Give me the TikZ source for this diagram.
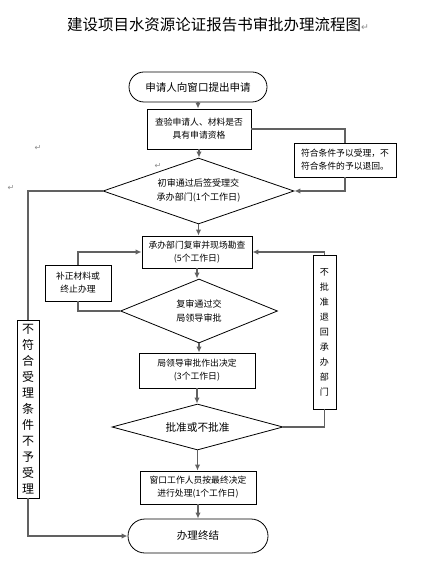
\documentclass[tikz,border=0pt]{standalone}
\usepackage{fontspec}
\setmainfont{Noto Sans CJK SC}
\newfontfamily\symfont{DejaVu Sans}
\usetikzlibrary{shapes.geometric,shapes.misc,arrows.meta}
\tikzset{
  basebox/.style={draw=black,line width=0.6pt,fill=white,align=center,inner sep=0pt},
  stepbox/.style={basebox,rectangle,font=\fontsize{6.6pt}{9.8pt}\selectfont},
  decis/.style={basebox,diamond,aspect=3,font=\fontsize{6.8pt}{10.5pt}\selectfont},
  term/.style={basebox,rounded rectangle,font=\fontsize{7.9pt}{10pt}\selectfont},
  conn/.style={draw=black!62,line width=1.1pt},
  arr/.style={conn,-{Latex[length=4.5pt,width=4pt]}},
  pmark/.style={text=black!45,font=\symfont\fontsize{6pt}{6pt}\selectfont,inner sep=0pt}
}
\begin{document}
\begin{tikzpicture}[x=0.75pt,y=-0.75pt]
\useasboundingbox (0,0) rectangle (444,566);
\fill[white] (0,0) rectangle (444,566);

\node[font=\fontsize{11.6pt}{12pt}\selectfont,inner sep=0pt] (title) at (218,25)
  {建设项目水资源论证报告书审批办理流程图{\symfont\fontsize{7pt}{7pt}\selectfont\textcolor{black!45}{↵}}};

\node[term,minimum width=103.5pt,minimum height=22.5pt] (start) at (198,87) {申请人向窗口提出申请};
\node[stepbox,minimum width=78pt,minimum height=30pt] (box1) at (199,129) {查验申请人、材料是否\\具有申请资格};
\node[stepbox,minimum width=76.5pt,minimum height=25.5pt] (boxR) at (345,160) {符合条件予以受理，不\\符合条件的予以退回。};
\node[decis,minimum width=143.25pt,minimum height=49.5pt] (d1) at (198.5,191) {初审通过后签受理交\\承办部门(1个工作日)};
\node[stepbox,minimum width=82.5pt,minimum height=24pt] (box2) at (197,252) {承办部门复审并现场勘查\\(5个工作日)};
\node[stepbox,minimum width=49.5pt,minimum height=27pt] (boxB) at (78,283) {补正材料或\\终止办理};
\node[decis,minimum width=117.75pt,minimum height=48pt] (d2) at (199,311) {复审通过交\\局领导审批};
\node[stepbox,minimum width=87pt,minimum height=26.25pt] (box3) at (197,370.5) {局领导审批作出决定\\(3个工作日)};
\node[stepbox,minimum width=17.25pt,minimum height=115.5pt,font=\fontsize{6.8pt}{11.25pt}\selectfont] (boxV) at (324.5,332)
  {不\\批\\准\\退\\回\\承\\办\\部\\门};
\node[decis,aspect=3.7,minimum width=128.25pt,minimum height=34.5pt,font=\fontsize{8pt}{10pt}\selectfont] (d3) at (197.5,427) {批准或不批准};
\node[stepbox,minimum width=16.5pt,minimum height=133.5pt,font=\fontsize{9pt}{12pt}\selectfont] (boxL) at (28,409)
  {不\\符\\合\\受\\理\\条\\件\\不\\予\\受\\理};
\node[stepbox,minimum width=87pt,minimum height=24.75pt] (box4) at (198,487.5) {窗口工作人员按最终决定\\进行处理(1个工作日)};
\node[term,minimum width=105pt,minimum height=25.5pt] (end) at (198,536) {办理终结};

\node[pmark] (m1) at (38,148) {↵};
\node[pmark] (m2) at (158,166) {↵};
\node[pmark] (m3) at (11,188) {↵};

\draw[arr] (start.south) -- (start.south |- box1.north);
\draw[conn] (box1.east) -| (boxR.north);
\draw[arr] (boxR.south) |- (d1.east);
\draw[arr] (box1.south) -- (box1.south |- d1.north);
\draw[conn] (d1.west) -| (boxL.north);
\draw[arr] (boxL.south) |- (end.west);
\draw[arr] (d1.south) -- (d1.south |- box2.north);
\draw[arr] (box2.south) -- (box2.south |- d2.north);
\draw[conn] (d2.west) -| (boxB.south);
\draw[arr] (boxB.north) |- (box2.west);
\draw[arr] (d2.south) -- (d2.south |- box3.north);
\draw[arr] (box3.south) -- (box3.south |- d3.north);
\draw[conn] (d3.east) -| (boxV.south);
\draw[arr] (boxV.north) |- (box2.east);
\draw[arr] (d3.south) -- (d3.south |- box4.north);
\draw[arr] (box4.south) -- (box4.south |- end.north);
\end{tikzpicture}
\end{document}
